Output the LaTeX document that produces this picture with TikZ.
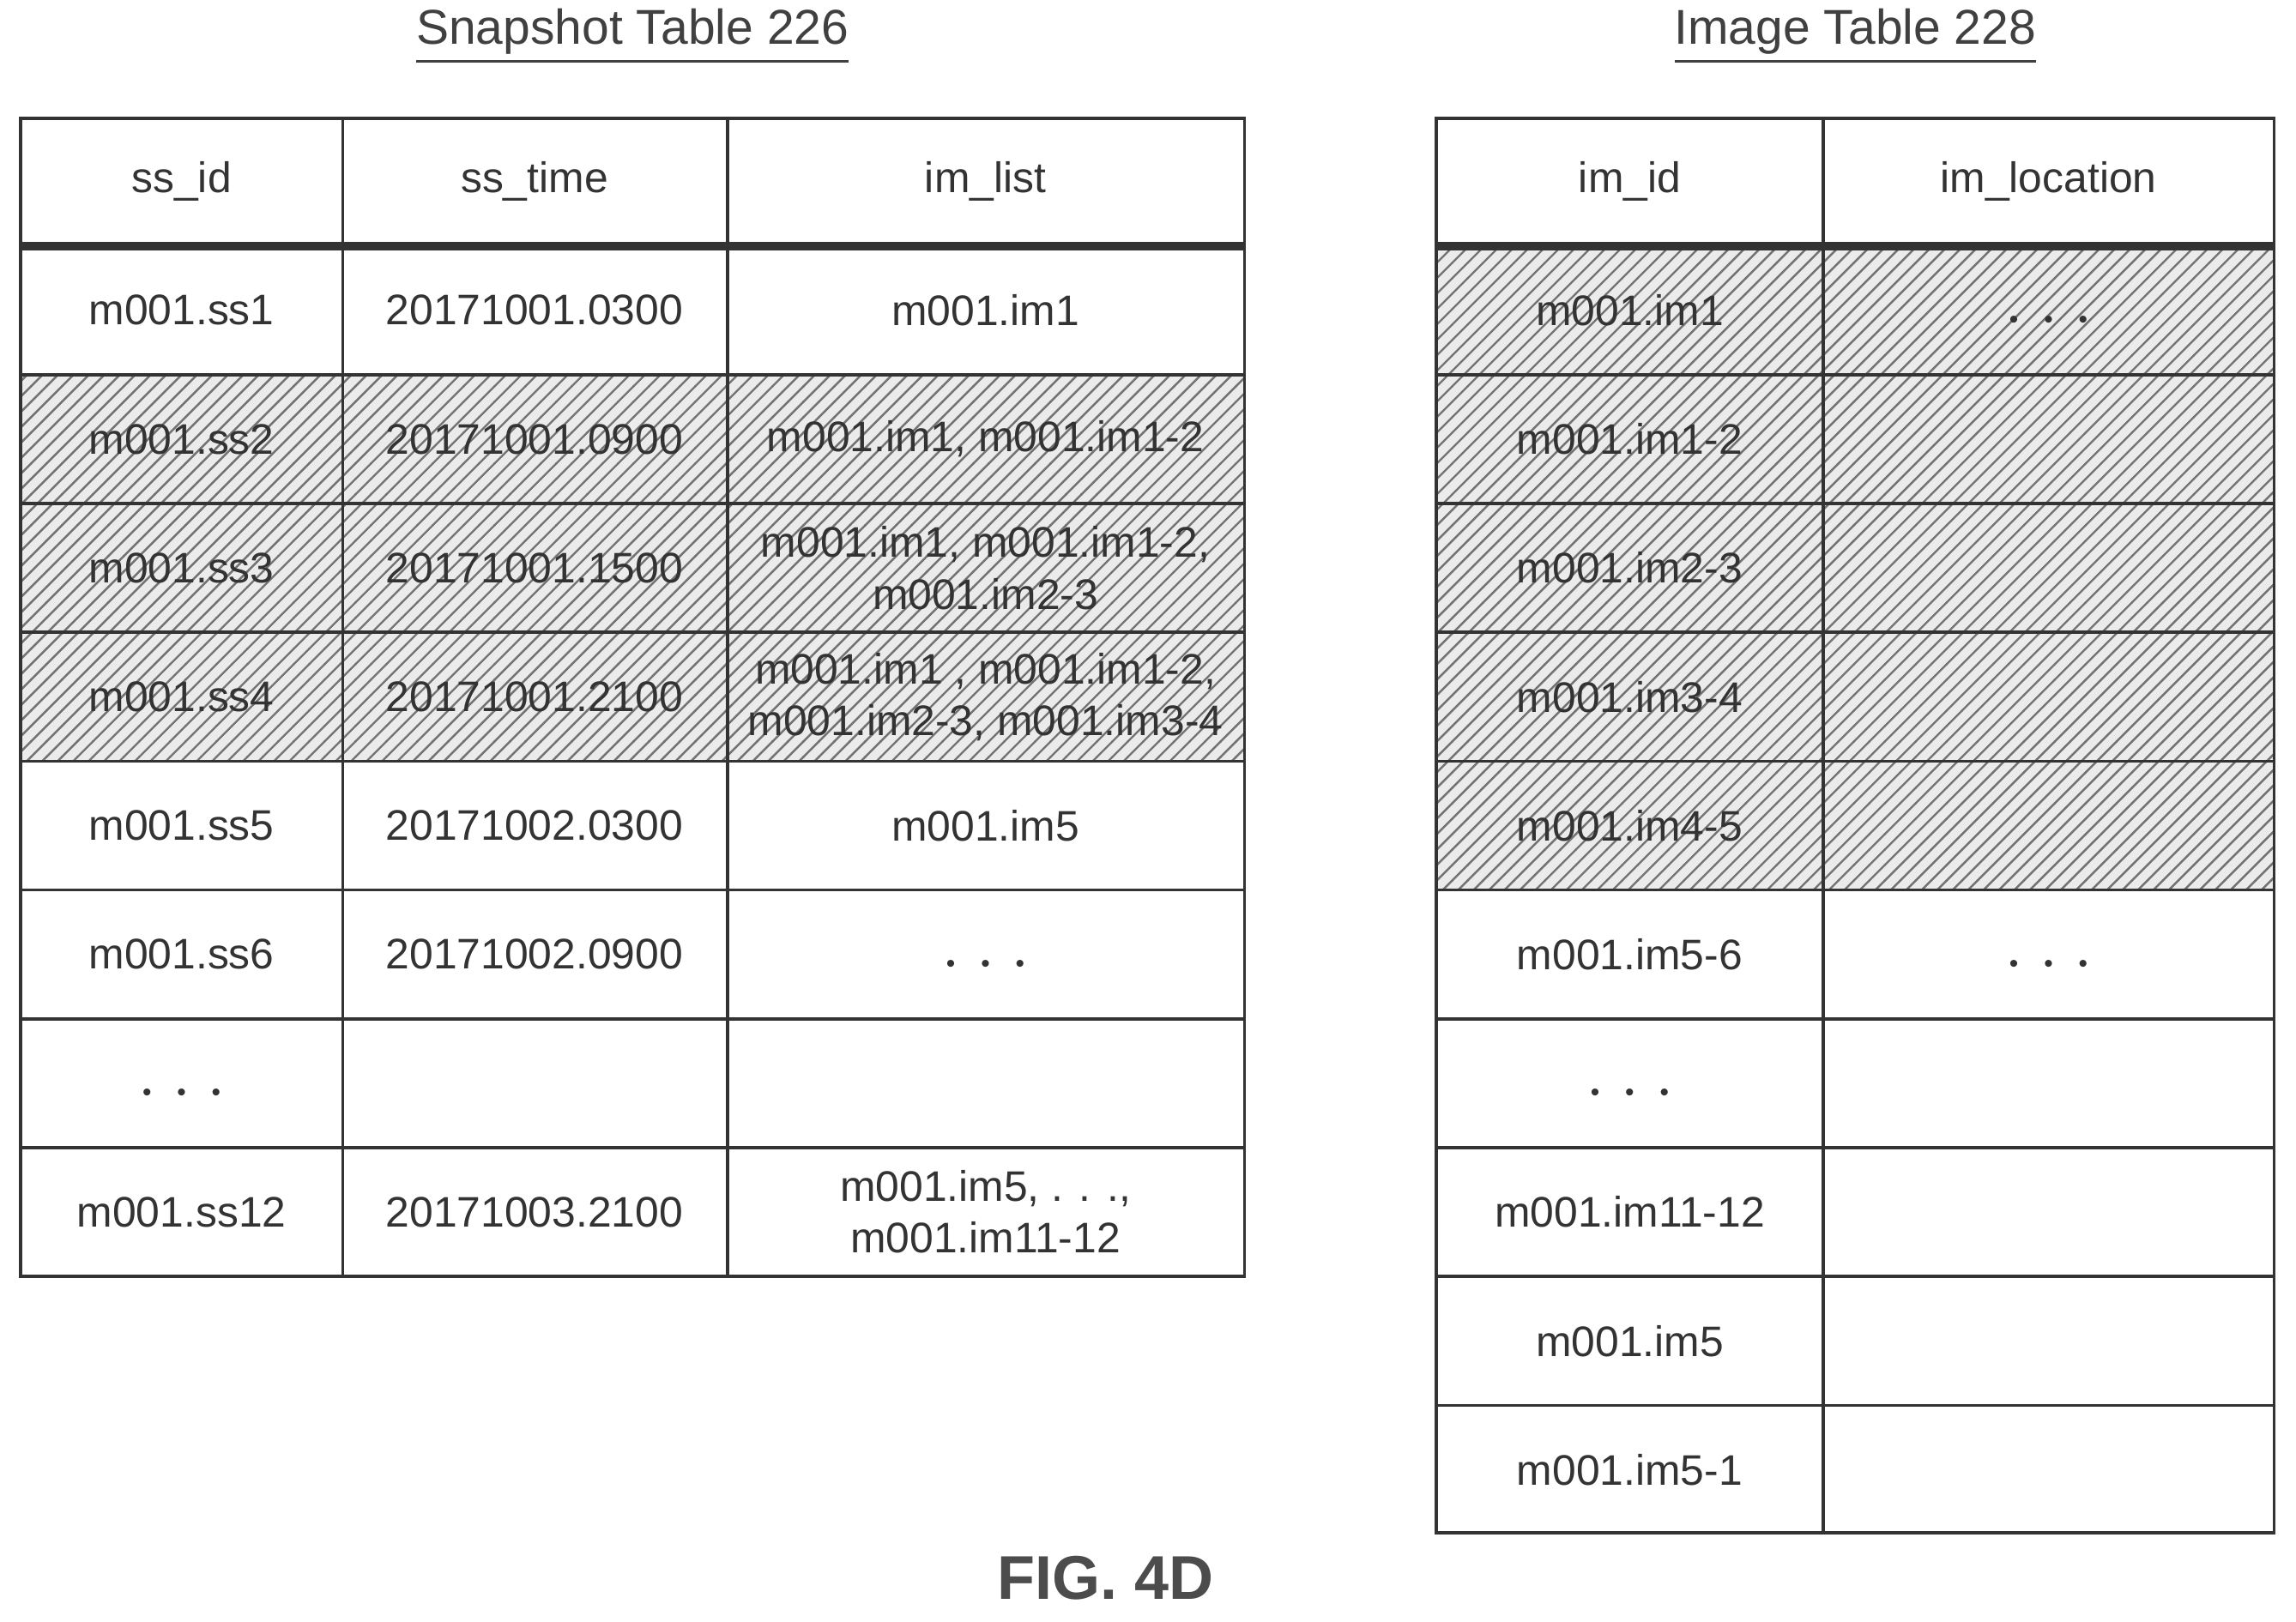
\documentclass[tikz,border=0pt]{standalone}
\usepackage{fontspec}
\setmainfont{Liberation Sans}
\usetikzlibrary{patterns}
\newcommand{\dd}{\scalebox{0.6}{\textbullet}\hspace{0.6em}\scalebox{0.6}{\textbullet}\hspace{0.6em}\scalebox{0.6}{\textbullet}}
\begin{document}
\begin{tikzpicture}[x=0.01cm,y=-0.01cm,
  cell/.style={font=\fontsize{8.3}{10}\selectfont,text=black!80,align=center},
  title/.style={font=\fontsize{9.5}{11}\selectfont,text=black!75},
  hatch/.style={pattern=north east lines,pattern color=black!55},
  grid/.style={draw=black!80,line width=0.6pt}]
\useasboundingbox (0,0) rectangle (1568,1108);
% hatched areas
\fill[black!8] (14,256) rectangle (850,520);
\fill[hatch] (14,256) rectangle (850,520);
\fill[black!8] (981,168) rectangle (1553,608);
\fill[hatch] (981,168) rectangle (1553,608);
% left grid
\draw[grid] (14,81) rectangle (850,872);
\foreach \x in {234,497} \draw[grid] (\x,81) -- (\x,872);
\foreach \y in {256,344,432,520,608,696,784} \draw[grid] (14,\y) -- (850,\y);
\draw[draw=black!80,line width=1.6pt] (14,168) -- (850,168);
% right grid
\draw[grid] (981,81) rectangle (1553,1047);
\draw[grid] (1245,81) -- (1245,1047);
\foreach \y in {256,344,432,520,608,696,784,872,960} \draw[grid] (981,\y) -- (1553,\y);
\draw[draw=black!80,line width=1.6pt] (981,168) -- (1553,168);
% titles
\node[title] (t1) at (432,25) {\underline{Snapshot Table 226}};
\node[title] (t2) at (1267,25) {\underline{Image Table 228}};
\node[font=\bfseries\fontsize{12}{14}\selectfont,text=black!70] (fig) at (755,1078) {FIG. 4D};
% left cells
\node[cell] (h1) at (124,124) {ss\_id};
\node[cell] (h2) at (365,124) {ss\_time};
\node[cell] (h3) at (673,124) {im\_list};
\node[cell] (a1) at (124,212) {m001.ss1};
\node[cell] (b1) at (365,212) {20171001.0300};
\node[cell] (c1) at (673,212) {m001.im1};
\node[cell] (a2) at (124,300) {m001.ss2};
\node[cell] (b2) at (365,300) {20171001.0900};
\node[cell] (c2) at (673,300) {m001.im1, m001.im1-2};
\node[cell] (a3) at (124,388) {m001.ss3};
\node[cell] (b3) at (365,388) {20171001.1500};
\node[cell] (c3) at (673,388) {m001.im1, m001.im1-2,\\m001.im2-3};
\node[cell] (a4) at (124,476) {m001.ss4};
\node[cell] (b4) at (365,476) {20171001.2100};
\node[cell] (c4) at (673,476) {m001.im1 , m001.im1-2,\\m001.im2-3, m001.im3-4};
\node[cell] (a5) at (124,564) {m001.ss5};
\node[cell] (b5) at (365,564) {20171002.0300};
\node[cell] (c5) at (673,564) {m001.im5};
\node[cell] (a6) at (124,652) {m001.ss6};
\node[cell] (b6) at (365,652) {20171002.0900};
\node[cell] (c6) at (673,660) {\dd};
\node[cell] (a7) at (124,748) {\dd};
\node[cell] (a8) at (124,828) {m001.ss12};
\node[cell] (b8) at (365,828) {20171003.2100};
\node[cell] (c8) at (673,828) {m001.im5, . . .,\\m001.im11-12};
% right cells
\node[cell] (rh1) at (1113,124) {im\_id};
\node[cell] (rh2) at (1399,124) {im\_location};
\node[cell] (r1) at (1113,212) {m001.im1};
\node[cell] (l1) at (1399,220) {\dd};
\node[cell] (r2) at (1113,300) {m001.im1-2};
\node[cell] (r3) at (1113,388) {m001.im2-3};
\node[cell] (r4) at (1113,476) {m001.im3-4};
\node[cell] (r5) at (1113,564) {m001.im4-5};
\node[cell] (r6) at (1113,652) {m001.im5-6};
\node[cell] (l6) at (1399,660) {\dd};
\node[cell] (r7) at (1113,748) {\dd};
\node[cell] (r8) at (1113,828) {m001.im11-12};
\node[cell] (r9) at (1113,916) {m001.im5};
\node[cell] (r10) at (1113,1004) {m001.im5-1};
\end{tikzpicture}
\end{document}
